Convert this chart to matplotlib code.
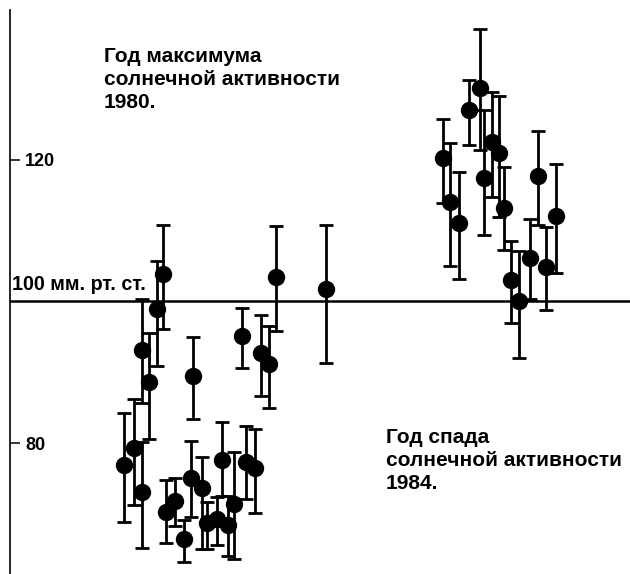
import matplotlib.pyplot as plt
import numpy as np

plt.rcParams['font.family'] = ['Liberation Sans', 'DejaVu Sans']
plt.rcParams['font.weight'] = 'bold'

# position of each measurement along the (unlabelled) time axis
x_pos = np.array([124, 134, 142, 142, 149, 157, 163, 166, 175, 184,
                  191, 193, 202, 207, 217, 222, 228, 234, 242, 246,
                  255, 261, 269, 276, 326,
                  443, 450, 459, 469, 480, 484, 492, 499, 504, 511,
                  519, 530, 538, 546, 556])

# mean pressure, mm Hg
pressure = np.array([76.9, 79.3, 73.1, 93.1, 88.6, 98.9, 103.9, 70.2, 71.8, 66.4,
                     75.1, 89.5, 73.6, 68.7, 69.3, 77.6, 68.4, 71.4, 95.1, 77.3,
                     76.5, 92.7, 91.2, 103.5, 101.8,
                     120.3, 114.1, 111.1, 127.1, 130.2, 117.5, 122.5, 121.0, 113.2, 103.0,
                     100.1, 106.1, 117.7, 104.9, 112.1])

# error bar ends
lower = np.array([68.8, 71.2, 65.2, 85.7, 80.6, 90.9, 96.1, 65.9, 68.3, 63.2,
                  69.5, 83.4, 65.0, 65.0, 65.6, 72.5, 64.0, 63.6, 90.6, 72.1,
                  70.1, 86.6, 84.9, 95.8, 91.3,
                  113.9, 105.0, 103.2, 122.1, 121.4, 109.4, 114.8, 111.9, 107.3, 97.0,
                  92.0, 100.4, 110.8, 98.8, 104.0])
upper = np.array([84.2, 86.2, 80.1, 100.4, 95.5, 105.7, 110.8, 74.8, 75.1, 69.1,
                  80.3, 95.0, 78.0, 71.7, 72.4, 83.0, 72.5, 78.7, 99.1, 82.4,
                  82.0, 98.1, 96.5, 110.7, 110.8,
                  125.8, 122.4, 118.3, 131.3, 138.5, 127.1, 129.6, 129.0, 119.0, 108.6,
                  107.1, 111.7, 124.1, 110.5, 119.4])

W, H = 630, 574


def put(x, y, s, size=15):
    # place text by pixel position (baseline) in the figure
    fig.text(x / W, 1 - y / H, s, fontsize=size, fontweight='bold',
             ha='left', va='baseline')


fig = plt.figure(figsize=(W / 100, H / 100), dpi=100)
ax = fig.add_axes([10 / W, 0, 620 / W, 1])
ax.set_xlim(10, 630)
ax.set_ylim(61.49, 142.6)

for side in ['top', 'right', 'bottom']:
    ax.spines[side].set_visible(False)
ax.spines['left'].set_linewidth(1.2)
ax.spines['left'].set_bounds(61.49, 141.2)

ax.axhline(100, color='black', lw=1.8, zorder=1)
ax.errorbar(x_pos, pressure, yerr=[pressure - lower, upper - pressure],
            fmt='o', color='black', markersize=11.5, elinewidth=2.0,
            capsize=4.8, capthick=2.0, zorder=3)

ax.set_xticks([])
ax.set_yticks([80, 120])
ax.set_yticklabels(['80', '120'], ha='left', fontweight='bold')
ax.tick_params(axis='y', direction='in', length=7, width=1.1,
               labelsize=13, pad=-11)

put(12, 290, '100 мм. рт. ст.', size=14.2)

put(104, 62, 'Год максимума')
put(104, 85, 'солнечной активности')
put(104, 108, '1980.')

put(386, 443, 'Год спада')
put(386, 466, 'солнечной активности')
put(386, 489, '1984.')

fig.savefig('out.png', dpi=100)
